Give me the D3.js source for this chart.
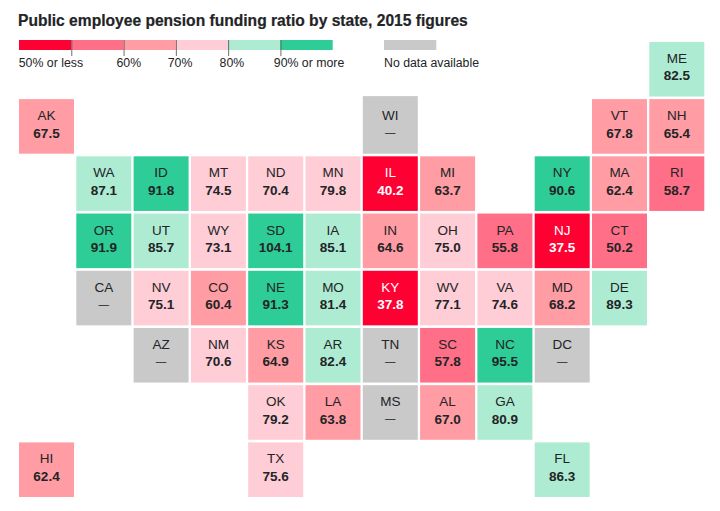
<!DOCTYPE html>
<html>
<head>
<meta charset="utf-8">
<script src="https://cdn.jsdelivr.net/npm/d3@7"></script>
<style>
html,body{margin:0;padding:0;background:#fff;}
svg{display:block;font-family:"Liberation Sans",Arial,sans-serif;}
</style>
</head>
<body>
<svg id="c" width="720" height="511"></svg>
<script>
const titleText = "Public employee pension funding ratio by state, 2015 figures";
const states = ["ME","AK","WI","VT","NH","WA","ID","MT","ND","MN","IL","MI","NY","MA","RI","OR","UT","WY","SD","IA","IN","OH","PA","NJ","CT","CA","NV","CO","NE","MO","KY","WV","VA","MD","DE","AZ","NM","KS","AR","TN","SC","NC","DC","OK","LA","MS","AL","GA","HI","TX","FL"];
const values = [82.5,67.5,null,67.8,65.4,87.1,91.8,74.5,70.4,79.8,40.2,63.7,90.6,62.4,58.7,91.9,85.7,73.1,104.1,85.1,64.6,75.0,55.8,37.5,50.2,null,75.1,60.4,91.3,81.4,37.8,77.1,74.6,68.2,89.3,null,70.6,64.9,82.4,null,57.8,95.5,null,79.2,63.8,null,67.0,80.9,62.4,75.6,86.3];
const tileGrid = [
  [0,0,0,0,0,0,0,0,0,0,0,"ME"],
  ["AK",0,0,0,0,0,"WI",0,0,0,"VT","NH"],
  [0,"WA","ID","MT","ND","MN","IL","MI",0,"NY","MA","RI"],
  [0,"OR","UT","WY","SD","IA","IN","OH","PA","NJ","CT",0],
  [0,"CA","NV","CO","NE","MO","KY","WV","VA","MD","DE",0],
  [0,0,"AZ","NM","KS","AR","TN","SC","NC","DC",0,0],
  [0,0,0,0,"OK","LA","MS","AL","GA",0,0,0],
  ["HI",0,0,0,"TX",0,0,0,0,"FL",0,0]
];
const breaks = [50,60,70,80,90];
const palette = ["#ff0033","#ff6f87","#ff9ca4","#ffcdd6","#aeebd3","#2ecc96"];
const noDataColor = "#c9c9c9";
const legendLabels = ["50% or less","60%","70%","80%","90% or more"];
const noDataLabel = "No data available";

const svg = d3.select("#c");
const ink = "#222426";

svg.append("text").attr("x",18).attr("y",26)
  .attr("font-size",15.6).attr("font-weight",700).attr("fill",ink)
  .attr("stroke",ink).attr("stroke-width",0.2).text(titleText);

const color = d3.scaleThreshold().domain(breaks).range(palette);

// legend
const legendX = d3.scaleLinear().domain([40,100]).range([19,332.7]);
const segs = d3.range(palette.length);
svg.append("g").selectAll("rect").data(segs).join("rect")
  .attr("x",i=>legendX(40+i*10)).attr("y",40)
  .attr("width",i=>legendX(50+i*10)-legendX(40+i*10)).attr("height",10)
  .attr("fill",i=>palette[i]);

const axis = d3.axisBottom(legendX).tickValues(breaks).tickSize(16).tickSizeOuter(0)
  .tickFormat((d,i)=>legendLabels[i]);
const ag = svg.append("g").attr("transform","translate(0,40)").call(axis);
ag.select(".domain").remove();
ag.selectAll("line").attr("stroke","#555").attr("stroke-opacity",0.85);
ag.selectAll("text").attr("font-size",12.3).attr("font-family","inherit").attr("fill",ink)
  .attr("y",0).attr("dy",0).attr("text-anchor","start")
  .attr("transform","translate(0,27)")
  .attr("x",(d,i)=>[-53,-7.6,-8.6,-9.1,-7.1][i]);

svg.append("rect").attr("x",384).attr("y",40).attr("width",52.3).attr("height",10).attr("fill",noDataColor);
svg.append("text").attr("x",384).attr("y",67).attr("font-size",12.3).attr("fill",ink).text(noDataLabel);

// tile grid
const cells = [];
tileGrid.forEach((row,r)=>row.forEach((s,c)=>{
  if(s){ const i = states.indexOf(s); cells.push({s,r,c,v:values[i]}); }
}));
const x = d3.scaleLinear().domain([0,11]).range([19,649.3]);
const y = d3.scaleLinear().domain([0,7]).range([41.9,442.4]);
const w = 55, h = 54.6;
const raisedTile = "WI", raise = 3;

const g = svg.append("g").selectAll("g").data(cells).join("g")
  .attr("transform",d=>`translate(${x(d.c)},${y(d.r)})`);
g.append("rect").attr("width",w)
  .attr("y",d=>d.s===raisedTile?-raise:0)
  .attr("height",d=>d.s===raisedTile?h+raise:h)
  .attr("fill",d=>d.v==null?noDataColor:color(d.v));
const textFill = d=>(d.v!=null && d.v<50)?"#fff":ink;
g.append("text").attr("x",w/2).attr("y",21).attr("text-anchor","middle")
  .attr("font-size",13.5).attr("fill",textFill).text(d=>d.s);
g.append("text").attr("x",w/2).attr("y",d=>d.v==null?37:38.5).attr("text-anchor","middle")
  .attr("font-size",d=>d.v==null?10.5:13.5).attr("font-weight",d=>d.v==null?400:700).attr("fill",textFill)
  .text(d=>d.v==null?"—":d.v.toFixed(1));
</script>
</body>
</html>
